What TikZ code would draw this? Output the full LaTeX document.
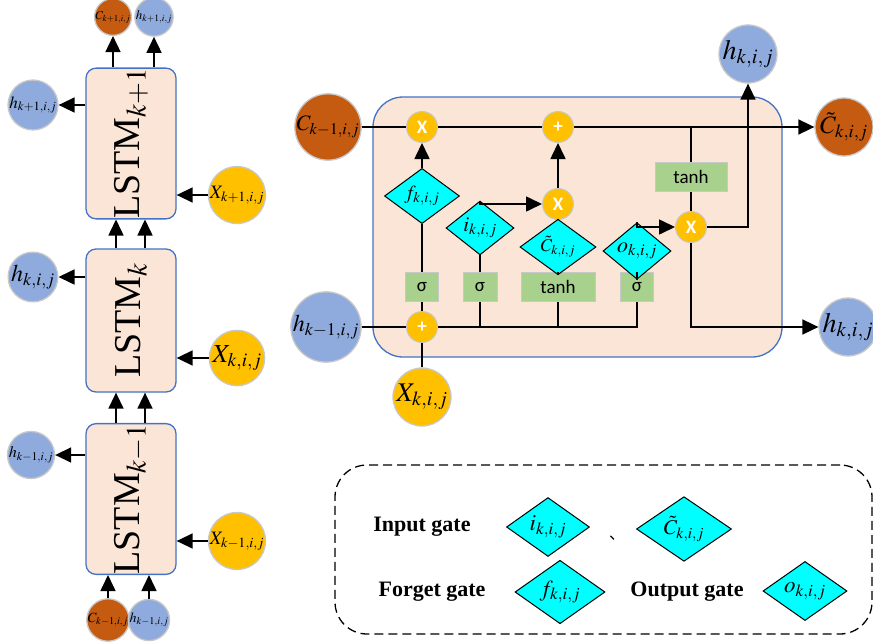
\documentclass[tikz,border=0pt]{standalone}
\usepackage{mathptmx}
\usepackage{fontspec}
\setmainfont{Liberation Serif}
\newfontfamily\calfont{Carlito}
\newfontfamily\cjkfont{Noto Sans CJK SC}
\usetikzlibrary{shapes.geometric,arrows.meta}
\definecolor{peach}{HTML}{FBE5D6}
\definecolor{bord}{HTML}{4472C4}
\definecolor{brn}{HTML}{C55A11}
\definecolor{lblue}{HTML}{8FAADC}
\definecolor{yel}{HTML}{FFC000}
\definecolor{grn}{HTML}{A9D18E}
\definecolor{cyn}{HTML}{00FFFF}
\definecolor{cgray}{HTML}{C8C8C8}
\newcommand{\fs}[1]{\fontsize{#1}{#1}\selectfont}
\begin{document}
\begin{tikzpicture}[x=1pt,y=-1pt,
  circ/.style={circle, draw=cgray, line width=1.3pt, inner sep=0pt},
  bcirc/.style={circ, fill=brn},
  ucirc/.style={circ, fill=lblue},
  ycirc/.style={circ, fill=yel},
  op/.style={circle, fill=yel, draw=cgray, line width=1pt, minimum size=31pt, inner sep=0pt, text=white, font=\calfont\bfseries\fs{19}},
  gbox/.style={rectangle, fill=grn, draw=cgray, line width=1pt, minimum height=29pt, inner sep=0pt, font=\calfont\fs{19}},
  gate/.style={diamond, fill=cyn, draw=black, line width=1pt, inner sep=0pt},
  ln/.style={line width=1.6pt},
  arr/.style={-{Triangle[length=16pt,width=15pt]}, line width=1.6pt},
  lstm/.style={rectangle, rounded corners=10pt, fill=peach, draw=bord, line width=1.3pt, minimum width=90pt, minimum height=143pt, inner sep=0pt, font=\fs{38}},
  legtxt/.style={font=\bfseries\fs{22}}
]
\useasboundingbox (0,0) rectangle (873,642);

% ---------------- left column ----------------
\node[lstm] (L1) at (131,143.5) {\rotatebox{90}{LSTM$_{k+1}$}};
\node[lstm] (L2) at (131,320.5) {\rotatebox{90}{LSTM$_{k}$}};
\node[lstm] (L3) at (131,499) {\rotatebox{90}{LSTM$_{k-1}$}};

\node[bcirc, minimum size=32pt, font=\fs{12}] (cn1) at (113,17) {$C_{k+1,i,j}$};
\node[ucirc, minimum size=32pt, font=\fs{13}] (hn1t) at (154,17) {$h_{k+1,i,j}$};
\node[ucirc, minimum size=46pt, font=\fs{17}] (hn1) at (33,105) {$h_{k+1,i,j}$};
\node[ycirc, minimum size=54pt, font=\fs{19}] (xn1) at (237,195) {$X_{k+1,i,j}$};
\node[ucirc, minimum size=46pt, font=\fs{24}] (hk) at (33,277) {$h_{k,i,j}$};
\node[ycirc, minimum size=54pt, font=\fs{26}] (xk1) at (237,358) {$X_{k,i,j}$};
\node[ucirc, minimum size=42pt, font=\fs{16}] (hm1) at (31,455) {$h_{k-1,i,j}$};
\node[ycirc, minimum size=54pt, font=\fs{19}] (xm1) at (237,541) {$X_{k-1,i,j}$};
\node[bcirc, minimum size=39pt, font=\fs{14}] (cb) at (108,620) {$C_{k-1,i,j}$};
\node[ucirc, minimum size=38pt, font=\fs{14}] (hb) at (149,620) {$h_{k-1,i,j}$};

\draw[arr] (L1.north -| cn1) -- (cn1);
\draw[arr] (L1.north -| hn1t) -- (hn1t);
\draw[arr] (L1.west |- hn1) -- (hn1);
\draw[arr] (xn1) -- (L1.east |- xn1);
\draw[arr] ([xshift=-15pt]L2.north) -- ([xshift=-15pt]L1.south);
\draw[arr] ([xshift=14pt]L2.north) -- ([xshift=14pt]L1.south);
\draw[arr] (L2.west |- hk) -- (hk);
\draw[arr] (xk1) -- (L2.east |- xk1);
\draw[arr] ([xshift=-15pt]L3.north) -- ([xshift=-15pt]L2.south);
\draw[arr] ([xshift=14pt]L3.north) -- ([xshift=14pt]L2.south);
\draw[arr] (L3.west |- hm1) -- (hm1);
\draw[arr] (xm1) -- (L3.east |- xm1);
\draw[arr] (cb) -- (cb |- L3.south);
\draw[arr] (hb) -- (hb |- L3.south);

% ---------------- LSTM cell ----------------
\node[rectangle, rounded corners=30pt, fill=peach, draw=bord, line width=1.3pt,
      minimum width=409pt, minimum height=260pt, inner sep=0pt] (cell) at (577.5,227) {};

\node[bcirc, minimum size=58pt, font=\fs{22}] (cprev) at (328,127) {$C_{k-1,i,j}$};
\node[ucirc, minimum size=58pt, font=\fs{24}] (hprev) at (326,327) {$h_{k-1,i,j}$};
\node[ycirc, minimum size=58pt, font=\fs{27}] (xk) at (422,397) {$X_{k,i,j}$};
\node[ucirc, minimum size=58pt, font=\fs{28}] (htop) at (748,54) {$h_{k,i,j}$};
\node[bcirc, minimum size=58pt, font=\fs{25}] (ctil) at (844,127) {$\tilde{C}_{k,i,j}$};
\node[ucirc, minimum size=56pt, font=\fs{28}] (hright) at (848,327) {$h_{k,i,j}$};

\node[op] (m1) at (422,127) {X};
\node[op] (p1) at (558,127) {+};
\node[op] (m2) at (558,204) {X};
\node[op] (m3) at (691,227) {X};
\node[op] (p2) at (422,327) {+};

\node[gbox, minimum width=33pt] (s1) at (422,287) {σ};
\node[gbox, minimum width=34pt] (s2) at (480,287) {σ};
\node[gbox, minimum width=74pt] (t1) at (558,287) {tanh};
\node[gbox, minimum width=33pt] (s3) at (637,287) {σ};
\node[gbox, minimum width=72pt] (t2) at (691,177) {tanh};

\node[gate, minimum width=75pt, minimum height=35pt, font=\fs{20}] (fd) at (422,196) {$f_{k,i,j}$};
\node[gate, minimum width=68pt, minimum height=40pt, font=\fs{21}] (id) at (480,228) {$i_{k,i,j}$};
\node[gate, minimum width=76pt, minimum height=40pt, font=\fs{18}] (cd) at (558,247) {$\tilde{C}_{k,i,j}$};
\node[gate, minimum width=68pt, minimum height=39pt, font=\fs{22}] (od) at (637,251) {$o_{k,i,j}$};

% cell-state line
\draw[ln] (cprev) -- (m1);
\draw[ln] (m1) -- (p1);
\draw[arr] (p1) -- (ctil);
\draw[ln] (t2 |- p1) -- (t2);
\draw[ln] (t2) -- (m3);
\draw[arr] (m3) -| (htop);
\draw[arr] (m3) |- (hright);

% hidden / input line
\draw[ln] (hprev) -- (p2);
\draw[ln] (xk) -- (p2);
\draw[ln] (p2) -- (s3 |- p2) -- (s3);
\draw[ln] (s2 |- p2) -- (s2);
\draw[ln] (t1 |- p2) -- (t1);
\draw[ln] (p2) -- (s1);

% gates
\draw[ln] (s1) -- (fd);
\draw[arr] (fd) -- (m1);
\draw[ln] (s2) -- (id);
\draw[arr] (id.north) |- (m2);
\draw[ln] (t1) -- (cd);
\draw[ln] (cd) -- (m2);
\draw[arr] (m2) -- (p1);
\draw[ln] (s3) -- (od);
\draw[arr] (od.north) |- (m3);

% ---------------- legend ----------------
\node[rectangle, rounded corners=32pt, draw=black, line width=1.3pt, dash pattern=on 9pt off 5pt,
      minimum width=537pt, minimum height=169pt, inner sep=0pt] (leg) at (603.5,549.5) {};
\node[legtxt] (lin) at (422,527) {Input gate};
\node[gate, minimum width=83pt, minimum height=50pt, font=\fs{23}] (li) at (548,527) {$i_{k,i,j}$};
\node[font=\cjkfont\fs{16}] (comma) at (617,538) {、};
\node[gate, minimum width=95pt, minimum height=50pt, font=\fs{21}] (lc) at (684,529) {$\tilde{C}_{k,i,j}$};
\node[legtxt] (lfg) at (432,592) {Forget gate};
\node[gate, minimum width=90pt, minimum height=44pt, font=\fs{23}] (lf) at (560,592) {$f_{k,i,j}$};
\node[legtxt] (lout) at (687,592) {Output gate};
\node[gate, minimum width=84pt, minimum height=49pt, font=\fs{23}] (lo) at (805,591) {$o_{k,i,j}$};
\end{tikzpicture}
\end{document}
